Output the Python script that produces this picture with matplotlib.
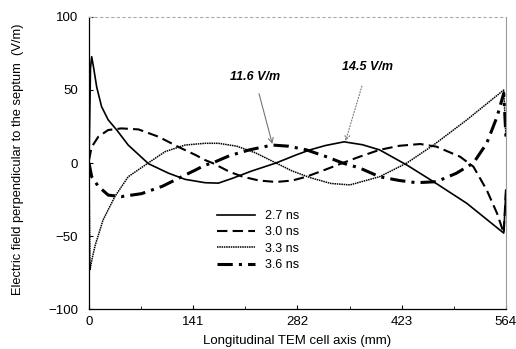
import matplotlib.pyplot as plt
import numpy as np

plt.rcParams['font.family'] = ['Liberation Sans', 'DejaVu Sans']

# values (x in mm, field in V/m)
x_27 = [0, 2, 3.6, 6, 10.4, 17, 26, 37.5, 53, 80.5, 107.6, 130, 157, 175, 194, 220,
        253, 280, 299, 320, 345, 370, 393, 430, 466, 511, 561, 564]
y_27 = [0, 65, 72.8, 66, 52, 38.6, 29.5, 22.6, 12.3, -0.5, -7, -11.2, -13.5, -13.8,
        -10.5, -5.5, 0, 5.5, 9, 12, 14.5, 12.5, 9, -1.4, -12.8, -27.6, -48, -18.5]

x_30 = [0, 3.6, 12.6, 26, 44, 67, 94, 121, 144, 157, 167, 190, 208, 230, 253, 275,
        294, 320, 343, 366, 393, 420, 448, 470, 502, 520, 538, 552, 561, 564]
y_30 = [2, 11, 18, 22.6, 23.7, 23, 18, 11, 5.5, 2, 0, -6, -9.4, -12, -13, -12,
        -9.4, -4.5, 0, 4.3, 9, 11.8, 13, 11.2, 4.3, -2.5, -18.5, -34.5, -48, -18]

x_33 = [0, 1.4, 4, 8, 19, 35, 53, 78, 103, 130, 157, 175, 200, 225, 253, 275, 299,
        327, 353, 393, 430, 466, 511, 561, 564]
y_33 = [0, -73, -66, -57, -39, -23, -9.4, -0.7, 7.8, 12.3, 13.5, 13.5, 11.5, 7, 0,
        -5.5, -10, -14, -15, -9.4, 0, 12.3, 29.5, 50, 18]

x_36 = [0, 3.6, 12.6, 26, 44, 71, 99, 121, 144, 157, 167, 190, 217, 248, 270, 294,
        320, 343, 366, 393, 420, 443, 470, 497, 520, 538, 552, 561, 564]
y_36 = [0, -9.4, -16, -22, -23, -21, -16, -10.5, -4.8, -1.4, 0, 5, 9, 12.3, 11.5, 9,
        4.5, 0, -3.4, -9.4, -12, -13.5, -12.8, -7, 0, 13.5, 31.7, 47.7, 18]

labels = ['2.7 ns', '3.0 ns', '3.3 ns', '3.6 ns']
xticks = [0, 141, 282, 423, 564]
yticks = [-100, -50, 0, 50, 100]

fig = plt.figure(figsize=(5.16, 3.49), dpi=100)
ax = fig.add_axes([0.1725, 0.1146, 0.808, 0.8367])

ax.plot(x_27, y_27, color='black', lw=1.2, ls='-', label=labels[0])
ax.plot(x_30, y_30, color='black', lw=1.5, ls=(0, (5, 2.5)), label=labels[1])
ax.plot(x_33, y_33, color='black', lw=1.1, ls=(0, (1, 0.5)), label=labels[2])
ax.plot(x_36, y_36, color='black', lw=2.2, ls=(0, (5, 2, 1, 2)), label=labels[3])

ax.set_xlim(0, 564)
ax.set_ylim(-100, 100)
ax.set_xticks(xticks)
ax.set_yticks(yticks)
ax.set_yticklabels(['\u2212100', '\u221250', '0', '50', '100'])
ax.set_xticks(np.arange(0, 565, 70.5), minor=True)
ax.tick_params(axis='both', which='major', direction='in', length=3, labelsize=9.5)
ax.tick_params(axis='y', pad=8)
ax.tick_params(axis='x', pad=5)
ax.tick_params(axis='x', which='minor', direction='in', length=2)

ax.spines['top'].set_color('#aaaaaa')
ax.spines['top'].set_linestyle((0, (2, 3)))
ax.spines['top'].set_linewidth(0.8)
ax.spines['right'].set_color('#999999')
ax.spines['right'].set_linewidth(0.8)
ax.spines['left'].set_linewidth(0.9)
ax.spines['bottom'].set_linewidth(0.9)

ax.set_xlabel('Longitudinal TEM cell axis (mm)', fontsize=9.5)
ax.set_ylabel('Electric field perpendicular to the septum  (V/m)', fontsize=9.3)
ax.yaxis.set_label_coords(-0.155, 0.514)
ax.xaxis.set_label_coords(0.5, -0.09)

ax.annotate('11.6 V/m', xy=(248, 13), xytext=(224, 59), ha='center', va='center',
            fontsize=9, fontweight='bold', fontstyle='italic',
            arrowprops=dict(arrowstyle='->', color='#777777', lw=0.8,
                            shrinkA=6, shrinkB=0))
ax.annotate('14.5 V/m', xy=(347, 15), xytext=(377, 66), ha='center', va='center',
            fontsize=9, fontweight='bold', fontstyle='italic',
            arrowprops=dict(arrowstyle='->', color='#777777', lw=0.8, ls=':',
                            shrinkA=8, shrinkB=0))

ax.legend(loc='upper left', bbox_to_anchor=(0.295, 0.356), frameon=False,
          fontsize=9, handlelength=3.0, handletextpad=0.8, labelspacing=0.35,
          borderaxespad=0)

fig.savefig('out.png', dpi=100)
